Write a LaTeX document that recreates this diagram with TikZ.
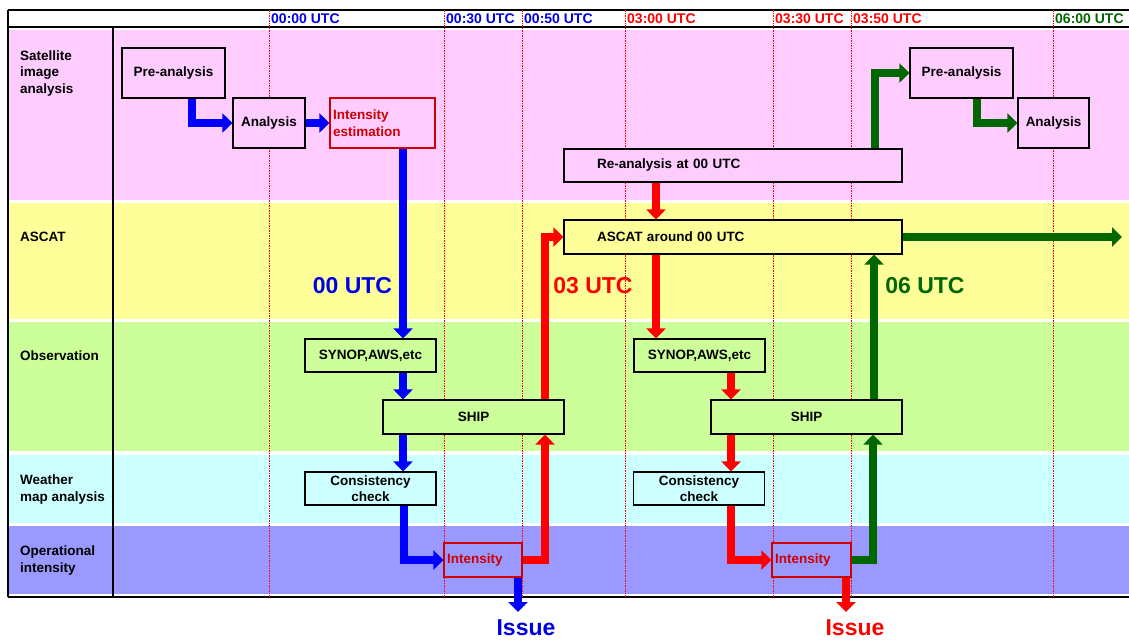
\documentclass[tikz,border=0pt]{standalone}
\usepackage{fontspec}
\setmainfont{Liberation Sans}
\usetikzlibrary{arrows.meta}
\definecolor{bpink}{HTML}{FFCCFF}
\definecolor{byellow}{HTML}{FFFF99}
\definecolor{bgreen}{HTML}{CCFF99}
\definecolor{bcyan}{HTML}{CCFFFF}
\definecolor{bviolet}{HTML}{9999FF}
\definecolor{ablue}{HTML}{0000FF}
\definecolor{tblue}{HTML}{0000E6}
\definecolor{ared}{HTML}{FF0000}
\definecolor{agreen}{HTML}{006600}
\definecolor{dred}{HTML}{CC0000}
\tikzset{
  smalltext/.style={font=\bfseries\fontsize{13.5}{16.5}\selectfont},
  hdrtext/.style={font=\bfseries\fontsize{14}{16.5}\selectfont},
  bigtext/.style={font=\bfseries\fontsize{23}{26}\selectfont},
  box/.style={draw=black, line width=1.2pt, inner sep=0pt, align=center, smalltext},
  redbox/.style={draw=dred, line width=1.2pt, inner ysep=0pt, inner xsep=3pt, align=left, smalltext, text=dred},
  rowlabel/.style={anchor=west, align=left, inner sep=0pt, smalltext},
  hdr/.style={anchor=west, inner xsep=2pt, inner ysep=0pt, hdrtext},
  vline/.style={draw=ared, line width=0.7pt, dash pattern=on 1.5pt off 1pt},
  frameline/.style={draw=black, line width=1.2pt},
  arr/.style={line width=8pt, line join=miter, -{Triangle[width=19pt,length=10pt]}},
  barr/.style={arr, draw=ablue},
  rarr/.style={arr, draw=ared},
  garr/.style={arr, draw=agreen}
}
\begin{document}
\begin{tikzpicture}[x=1pt,y=-1pt]
\useasboundingbox (0,0) rectangle (1129,641);
% bands
\fill[bpink] (9,30) rectangle (1129,200);
\fill[byellow] (9,203) rectangle (1129,319);
\fill[bgreen] (9,322) rectangle (1129,451);
\fill[bcyan] (9,455) rectangle (1129,523);
\fill[bviolet] (9,526) rectangle (1129,594);
% frame
\draw[frameline] (8,10) -- (1129,10);
\draw[frameline] (8,27) -- (1129,27);
\draw[frameline] (8,597) -- (1129,597);
\draw[frameline] (8,10) -- (8,597);
\draw[frameline] (113,27) -- (113,597);
% time lines
\foreach \x in {269,444,522,625,773,851,1053}
  \draw[vline] (\x,10) -- (\x,597);
% header labels
\node[hdr, text=tblue] (h1) at (269,19) {00:00 UTC};
\node[hdr, text=tblue] (h2) at (444,19) {00:30 UTC};
\node[hdr, text=tblue] (h3) at (522,19) {00:50 UTC};
\node[hdr, text=ared] (h4) at (625,19) {03:00 UTC};
\node[hdr, text=ared] (h5) at (773,19) {03:30 UTC};
\node[hdr, text=ared] (h6) at (851,19) {03:50 UTC};
\node[hdr, text=agreen] (h7) at (1053,19) {06:00 UTC};
% row labels
\node[rowlabel] (r1) at (20,73.5) {Satellite\\image\\analysis};
\node[rowlabel] (r2) at (20,237) {ASCAT};
\node[rowlabel] (r3) at (20,356) {Observation};
\node[rowlabel] (r4) at (20,489.5) {Weather\\map analysis};
\node[rowlabel] (r5) at (20,560.5) {Operational\\intensity};
% boxes
\node[box, fill=bpink, minimum width=103pt, minimum height=50pt] (pre1) at (173.5,73) {Pre-analysis};
\node[box, fill=bpink, minimum width=72pt, minimum height=50pt] (ana1) at (269,123) {Analysis};
\node[redbox, fill=bpink, minimum height=50pt, text width=99pt] (inte) at (382.5,123) {Intensity\\estimation};
\node[box, fill=bpink, minimum height=33pt, text width=272pt, inner xsep=33pt, align=left] (rea) at (733,165.5) {Re-analysis at 00 UTC};
\node[box, fill=bpink, minimum width=103pt, minimum height=50pt] (pre2) at (961.5,73) {Pre-analysis};
\node[box, fill=bpink, minimum width=71pt, minimum height=50pt] (ana2) at (1053.5,123) {Analysis};
\node[box, fill=byellow, minimum height=34pt, text width=272pt, inner xsep=33pt, align=left] (ascat) at (733,237) {ASCAT around 00 UTC};
\node[box, fill=bgreen, minimum width=131pt, minimum height=33pt] (syn1) at (370.5,355.5) {SYNOP,AWS,etc};
\node[box, fill=bgreen, minimum width=181pt, minimum height=34pt] (ship1) at (473.5,417) {SHIP};
\node[box, fill=bgreen, minimum width=131pt, minimum height=33pt] (syn2) at (699.5,355.5) {SYNOP,AWS,etc};
\node[box, fill=bgreen, minimum width=191pt, minimum height=34pt] (ship2) at (806.5,417) {SHIP};
\node[box, fill=bcyan, minimum width=131pt, minimum height=33pt] (cc1) at (370.5,488.5) {Consistency\\check};
\node[box, fill=bcyan, minimum width=131pt, minimum height=33pt] (cc2) at (699,488.5) {Consistency\\check};
\node[redbox, fill=bviolet, minimum height=34pt, text width=72pt] (int1) at (483,560) {Intensity};
\node[redbox, fill=bviolet, minimum height=34pt, text width=73pt] (int2) at (811.5,560) {Intensity};
% big labels
\node[bigtext, text=tblue] (u0) at (352.5,286) {00 UTC};
\node[bigtext, text=ared] (u3) at (593,286) {03 UTC};
\node[bigtext, text=agreen] (u6) at (925,286) {06 UTC};
\node[bigtext, text=tblue] (is1) at (526,628) {Issue};
\node[bigtext, text=ared] (is2) at (855,628) {Issue};
\coordinate (e1) at (518,612);
\coordinate (e2) at (846,612);
\coordinate (e3) at (1122,237);
% blue arrows
\draw[barr] (pre1.south -| 192,0) |- (ana1.west);
\draw[barr] (ana1.east) -- (inte.west);
\draw[barr] (inte.south -| 403,0) -- (syn1.north -| 403,0);
\draw[barr] (syn1.south -| 403,0) -- (ship1.north -| 403,0);
\draw[barr] (ship1.south -| 403,0) -- (cc1.north -| 403,0);
\draw[barr] (cc1.south -| 404,0) |- (int1.west);
\draw[barr] (int1.south -| e1) -- (e1);
% red arrows
\draw[rarr] (int1.east) -| (ship1.south -| 545,0);
\draw[rarr] (ship1.north -| 545,0) |- (ascat.west);
\draw[rarr] (rea.south -| 656,0) -- (ascat.north -| 656,0);
\draw[rarr] (ascat.south -| 656,0) -- (syn2.north -| 656,0);
\draw[rarr] (syn2.south -| 731,0) -- (ship2.north -| 731,0);
\draw[rarr] (ship2.south -| 731,0) -- (cc2.north -| 731,0);
\draw[rarr] (cc2.south -| 731,0) |- (int2.west);
\draw[rarr] (int2.south -| e2) -- (e2);
% green arrows
\draw[garr] (int2.east) -| (ship2.south -| 873,0);
\draw[garr] (ship2.north -| 874,0) -- (ascat.south -| 874,0);
\draw[garr] (ascat.east) -- (e3);
\draw[garr] (rea.north -| 875,0) |- (pre2.west);
\draw[garr] (pre2.south -| 977,0) |- (ana2.west);
\end{tikzpicture}
\end{document}
